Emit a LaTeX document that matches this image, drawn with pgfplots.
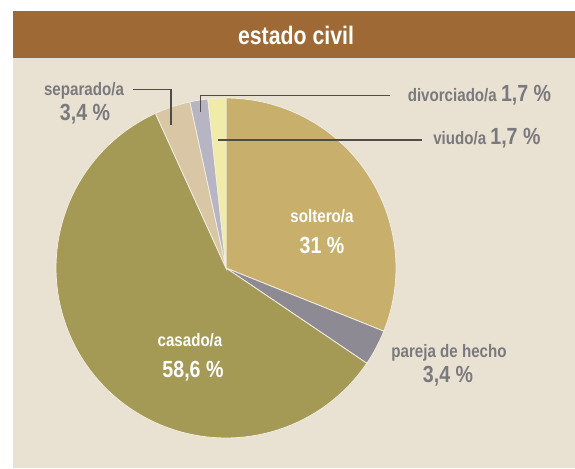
\documentclass[border=0pt]{standalone}
\usepackage{fontspec}
\setmainfont{Liberation Sans}[FakeStretch=0.84]
\usepackage{pgfplots}
\pgfplotsset{compat=1.18}
\definecolor{hdr}{HTML}{9E6934}
\definecolor{bgc}{HTML}{E9E2D2}
\definecolor{csol}{HTML}{C8B06C}
\definecolor{cpar}{HTML}{8E8A94}
\definecolor{ccas}{HTML}{A49A56}
\definecolor{csep}{HTML}{D9C6A4}
\definecolor{cdiv}{HTML}{B7B4C3}
\definecolor{cviu}{HTML}{F0EBA9}
\definecolor{sepl}{HTML}{F1ECE0}
\definecolor{txt}{HTML}{7A797D}
\definecolor{linec}{HTML}{4F4B48}
\begin{document}
\begin{tikzpicture}
% data (percent): soltero, pareja de hecho, casado, separado, divorciado, viudo
\def\vA{31}\def\vB{3.4}\def\vC{58.6}\def\vD{3.4}\def\vE{1.7}\def\vF{1.7}
\pgfmathsetmacro\tot{\vA+\vB+\vC+\vD+\vE+\vF}
\pgfmathsetmacro\kk{360/\tot}
\pgfmathsetmacro\aA{90-\kk*\vA}
\pgfmathsetmacro\aB{\aA-\kk*\vB}
\pgfmathsetmacro\aC{\aB-\kk*\vC}
\pgfmathsetmacro\aD{\aC-\kk*\vD}
\pgfmathsetmacro\aE{\aD-\kk*\vE}
\pgfmathsetmacro\aF{\aE-\kk*\vF}
\begin{axis}[scale only axis, width=431.25pt, height=351pt,
  xmin=0, xmax=575, ymin=0, ymax=468, y dir=reverse, hide axis, clip=false]
\fill[white] (axis cs:0,0) rectangle (axis cs:575,468);
\fill[bgc] (axis cs:13,58) rectangle (axis cs:575,468);
\fill[hdr] (axis cs:13,11) rectangle (axis cs:575,58);
\node[white, font=\bfseries\fontsize{19}{21}\selectfont] at (axis cs:296,35) {estado civil};
\pgfplotsset{pie/.style={draw=sepl, line width=0.6pt, samples=90}}
\addplot[pie, fill=csol, domain=\aA:90] ({226+170*cos(x)},{268-170*sin(x)}) -- (axis cs:226,268) -- cycle;
\addplot[pie, fill=cpar, domain=\aB:\aA] ({226+170*cos(x)},{268-170*sin(x)}) -- (axis cs:226,268) -- cycle;
\addplot[pie, fill=ccas, domain=\aC:\aB] ({226+170*cos(x)},{268-170*sin(x)}) -- (axis cs:226,268) -- cycle;
\addplot[pie, fill=csep, domain=\aD:\aC] ({226+170*cos(x)},{268-170*sin(x)}) -- (axis cs:226,268) -- cycle;
\addplot[pie, fill=cdiv, domain=\aE:\aD] ({226+170*cos(x)},{268-170*sin(x)}) -- (axis cs:226,268) -- cycle;
\addplot[pie, fill=cviu, domain=\aF:\aE] ({226+170*cos(x)},{268-170*sin(x)}) -- (axis cs:226,268) -- cycle;
% leader lines
\draw[linec, line width=0.8pt] (axis cs:133,89.5) -- (axis cs:171,89.5) -- (axis cs:171,125);
\draw[linec, line width=0.8pt] (axis cs:200.7,112) -- (axis cs:200.7,95.5) -- (axis cs:390,95.5);
\draw[linec, line width=0.8pt] (axis cs:218,140) -- (axis cs:422,140);
% labels
\tikzset{lab/.style={font=\bfseries\fontsize{13.5}{15}\selectfont, inner sep=0pt},
         pct/.style={font=\bfseries\fontsize{17.5}{19}\selectfont, inner sep=0pt}}
\node[lab, white] at (axis cs:322,216) {soltero/a};
\node[pct, white] at (axis cs:322,245.5) {31 \%};
\node[lab, white] at (axis cs:190,340) {casado/a};
\node[pct, white] at (axis cs:193,371) {58,6 \%};
\node[lab, txt] at (axis cs:449,353) {pareja de hecho};
\node[pct, txt] at (axis cs:448,376) {3,4 \%};
\node[lab, txt] at (axis cs:84,91) {separado/a};
\node[pct, txt] at (axis cs:85,114) {3,4 \%};
\node[lab, txt, anchor=base west] at (axis cs:407.5,101) {divorciado/a {\fontsize{17.5}{19}\selectfont 1,7 \%}};
\node[lab, txt, anchor=base west] at (axis cs:433,144) {viudo/a {\fontsize{17.5}{19}\selectfont 1,7 \%}};
\end{axis}
\end{tikzpicture}
\end{document}
